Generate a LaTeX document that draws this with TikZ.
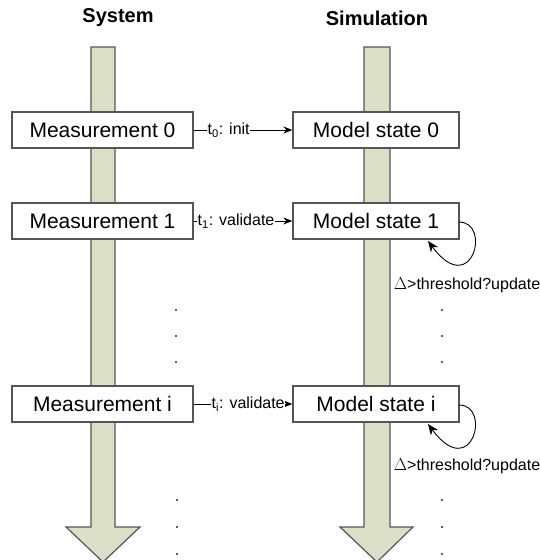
\documentclass[tikz,border=0pt]{standalone}
\usepackage{fontspec}
\setmainfont{Liberation Sans}
\usetikzlibrary{arrows.meta}
\definecolor{shaft}{HTML}{DCDFC8}
\definecolor{edge}{HTML}{555555}
\begin{document}
\begin{tikzpicture}[x=1pt,y=-1pt,
  box/.style={draw=edge,line width=1.3pt,fill=white,minimum width=181pt,minimum height=36pt,inner sep=0pt,font=\fontsize{21}{24}\selectfont},
  modelbox/.style={box,minimum width=166pt},
  bigarrow/.style={draw=edge,line width=1.2pt,fill=shaft},
  title/.style={font=\fontsize{20}{24}\selectfont\bfseries},
  lab/.style={fill=white,inner sep=0.5pt,anchor=west,font=\fontsize{16}{18}\selectfont},
  link/.style={draw=black,line width=0.9pt,-{Stealth[length=9pt,width=7pt]}},
  loop/.style={draw=black,line width=0.9pt,-{Stealth[length=11pt,width=9pt]}},
  upd/.style={font=\fontsize{16}{18}\selectfont,inner sep=0pt},
  dot/.style={circle,fill=black!85,inner sep=0pt,minimum size=2.4pt}]
\useasboundingbox (0,0) rectangle (540,560);
% titles
\node[title] (tsys) at (118,18) {System};
\node[title] (tsim) at (377,18) {Simulation};
% big arrows
\draw[bigarrow] (91,47) -- (115,47) -- (115,527) -- (140,527) -- (103,562) -- (66,527) -- (91,527) -- cycle;
\draw[bigarrow] (364,47) -- (390,47) -- (390,527) -- (413,527) -- (377,562) -- (340,527) -- (364,527) -- cycle;
% boxes
\node[box] (m0) at (102.5,130) {Measurement 0};
\node[box] (m1) at (102.5,221) {Measurement 1};
\node[box] (mi) at (102.5,404) {Measurement i};
\node[modelbox] (s0) at (376,130) {Model state 0};
\node[modelbox] (s1) at (376,221) {Model state 1};
\node[modelbox] (si) at (376,404) {Model state i};
% connectors
\draw[link] (m0.east) -- (s0.west);
\node[lab] (t0) at (207,130) {t\textsubscript{0}: init};
\draw[link] (m1.east) -- (s1.west);
\node[lab] (t1) at (197,221) {t\textsubscript{1}: validate};
\draw[link] (mi.east) -- (si.west);
\node[lab] (ti) at (211,404) {t\textsubscript{i}: validate};
% self loops
\coordinate (l1a) at (459,222);
\coordinate (l1b) at (428,241);
\draw[loop] (l1a) .. controls (492,222) and (472,300) .. (l1b);
\coordinate (lia) at (459,405);
\coordinate (lib) at (428,424);
\draw[loop] (lia) .. controls (492,405) and (472,483) .. (lib);
\node[upd] (u1) at (467,285) {$\Delta$>threshold?update};
\node[upd] (ui) at (467,466) {$\Delta$>threshold?update};
% dots
\foreach \y [count=\k] in {310,336,362} {
  \node[dot] (dl\k) at (176,\y) {};
  \node[dot] (dr\k) at (442,\y) {};
}
\foreach \y [count=\k] in {500,527,554} {
  \node[dot] (el\k) at (177,\y) {};
  \node[dot] (er\k) at (442,\y) {};
}
\end{tikzpicture}
\end{document}
